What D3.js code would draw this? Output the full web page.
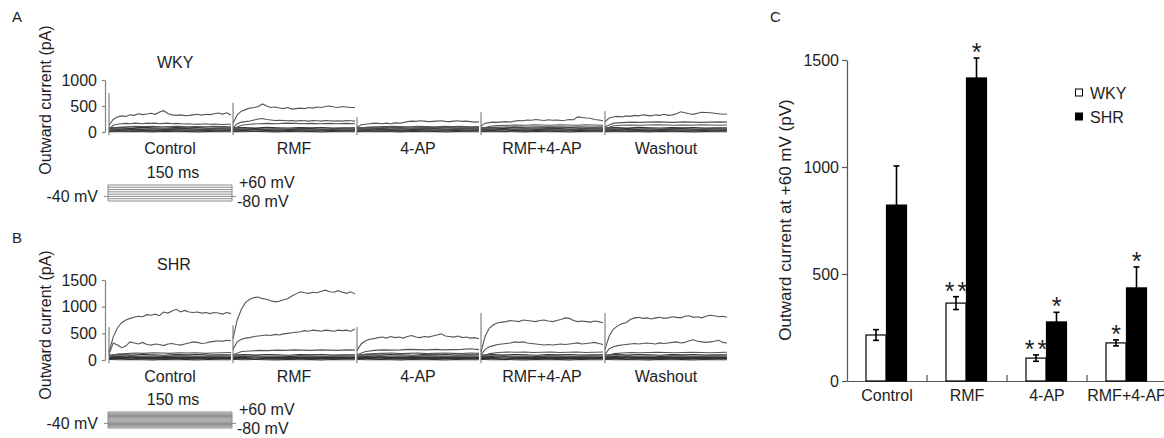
<!DOCTYPE html>
<html>
<head>
<meta charset="utf-8">
<script src="https://cdn.jsdelivr.net/npm/d3@7"></script>
<style>
  body { margin: 0; background: #fff; }
  svg text { font-family: "Liberation Sans", Arial, sans-serif; fill: #1e1e1e; }
</style>
</head>
<body>
<svg id="fig" width="1164" height="438"></svg>
<script>
// ---- panels A / B : current traces (pA), sampled evenly over the 150 ms step
var conditions = ["Control", "RMF", "4-AP", "RMF+4-AP", "Washout"];
var ticksA = [0, 500, 1000];
var ticksB = [0, 500, 1000, 1500];

var wkyTop = [
  [130,240,290,310,300,330,320,350,335,345,360,340,385,410,355,330,320,330,315,320,330,340,325,340,335,350,365,345,370,325],
  [170,330,400,430,460,470,490,540,500,470,480,460,450,470,440,450,460,450,470,460,480,470,490,500,480,470,490,480,470,470],
  [90,140,150,160,170,165,160,170,160,175,170,180,200,210,205,215,210,200,205,210,215,205,200,210,215,205,210,200,190,195],
  [110,170,180,190,185,195,200,190,210,220,215,230,225,240,230,220,235,225,230,220,225,240,235,290,280,270,265,240,230,215],
  [200,270,290,300,290,310,300,320,310,330,320,310,330,320,340,320,330,350,390,370,350,340,360,380,375,370,360,350,340,345]
];
var wkyMid = [
  [60,130,150,160,165,160,170,165,160,170,165,170,160,165,170,160,165,160,155,160,150,155,150,160,150,155,150,145,150,150],
  [80,160,190,200,210,230,250,260,240,230,220,225,220,215,220,210,220,215,210,220,215,210,220,215,210,215,210,220,215,210],
  [60,90,100,105,110,105,100,110,105,100,110,105,110,100,105],
  [60,110,125,130,135,130,140,135,130,140,135,130,140,135,130],
  [100,170,180,190,185,190,195,190,185,195,190,185,190,195,190]
];
var wkyLow = [
  [40,90,100,110,105,110,100,105,110,100,105,100,110,105,100],
  [60,130,150,160,165,160,170,165,160,165,160,165,160,165,160],
  [50,75,80,85,80,78,84,80,86,80,82,80],
  [50,90,95,100,96,102,98,100,95,100,97,100],
  [60,120,130,135,130,135,140,135,130,135,130,140,135,130,135]
];
var wkyBase = [
  [80,85,78,88,82,76,84,80,86,78,82,80],
  [60,56,64,58,62,55,60,64,57,60,62,58],
  [42,38,45,40,36,44,40,38,43,41,37,40],
  [24,28,20,26,22,27,21,25,23,28,22,24],
  [8,4,10,6,2,9,5,7,3,8,6,4]
];
var wkySpike = [750, 560, 290, 380, 400];

var shrTop = [
  [150,430,600,700,750,780,800,820,810,850,840,860,830,900,880,920,950,900,930,900,890,900,880,890,870,890,880,860,890,870],
  [400,750,950,1080,1140,1170,1180,1150,1140,1110,1090,1100,1130,1150,1200,1240,1280,1260,1250,1270,1260,1290,1310,1280,1270,1300,1270,1250,1280,1240],
  [180,300,360,390,400,420,430,410,440,420,430,410,440,460,430,420,440,430,450,470,490,450,440,430,450,420,430,410,420,400],
  [150,450,600,660,700,710,720,740,730,720,750,740,730,720,740,750,730,720,740,760,790,780,740,720,730,720,710,730,720,700],
  [200,450,580,640,680,700,760,790,800,780,790,770,790,800,780,790,810,800,790,820,830,800,810,790,820,840,830,810,820,800]
];
var shrMid = [
  [100,320,280,230,260,340,320,300,330,290,280,300,290,270,300,310,290,280,300,320,340,330,310,320,340,350,360,350,370,360],
  [200,340,390,410,420,440,450,460,470,460,480,470,490,500,510,520,530,550,540,560,550,540,560,550,540,560,550,560,540,580],
  [100,160,180,190,185,190,200,195,190,200,190,195,200,210,195],
  [100,200,250,270,290,300,310,320,340,330,340,320,310,300,290,280,290,280,290,300,290,300,310,320,300,310,320,330,310,290],
  [100,210,250,270,280,290,300,310,300,310,320,310,300,320,310,320,330,340,320,330,360,380,350,340,330,340,350,370,330,320]
];
var shrLow = [
  [60,110,120,130,125,135,130,125,135,130,135,125,130,135,140],
  [100,160,170,180,175,185,180,190,185,180,190,185,180,190,185],
  [60,110,120,125,130,120,125,130,120,125,130,125,120,130,125],
  [60,120,140,150,145,150,140,145,150,140,145,150,140,145,150],
  [60,120,130,140,135,140,145,140,135,140,145,140,135,140,145]
];
var shrBase = [
  [95,100,92,104,98,90,100,96,102,94,98,96],
  [72,68,76,70,74,66,72,76,69,72,74,70],
  [50,46,54,48,44,52,48,46,51,49,45,48],
  [28,32,24,30,26,31,25,29,27,32,26,28],
  [8,4,10,6,2,9,5,7,3,8,6,4]
];
var shrSpike = [620, 650, 620, 880, 880];

// voltage protocol (mV)
var stepsA = [-80, -60, -40, -20, 0, 20, 40, 60];
var stepsB = [-80, -70, -60, -50, -40, -30, -20, -10, 0, 10, 20, 30, 40, 50, 60];

// ---- panel C : mean outward current at +60 mV
var groups = ["Control", "RMF", "4-AP", "RMF+4-AP"];
var strains = ["WKY", "SHR"];
var wkyMean = [215, 364, 107, 178];
var wkySem = [25, 30, 15, 14];
var shrMean = [822, 1416, 276, 435];
var shrSem = [183, 93, 45, 98];
var wkyStars = ["", "**", "**", "*"];
var shrStars = ["", "*", "*", "*"];
var barTicks = [0, 500, 1000, 1500];

var svg = d3.select("#fig");
var fs = 16;

function txt(x, y, s, anchor, size) {
  return svg.append("text").attr("x", x).attr("y", y)
    .attr("text-anchor", anchor || "start")
    .style("font-size", (size || fs) + "px").text(s);
}

function styleAxis(ax, col) {
  ax.select(".domain").attr("stroke", col).attr("stroke-width", 1.2);
  ax.selectAll(".tick line").attr("stroke", col).attr("stroke-width", 1.2);
  ax.selectAll("text").style("font-size", fs + "px").attr("fill", "#1e1e1e")
    .style("font-family", "'Liberation Sans', Arial, sans-serif");
}

var xSeg = d3.scaleBand().domain(conditions).range([108, 728]);

function tracePanel(p) {
  var y = d3.scaleLinear().domain([0, p.max]).range([p.bottom, p.top]);
  var g = svg.append("g");

  // y axis
  var ax = g.append("g").attr("transform", "translate(105,0)")
    .call(d3.axisLeft(y).tickValues(p.ticks).tickFormat(d3.format("d"))
      .tickSize(3).tickSizeOuter(0).tickPadding(5));
  styleAxis(ax, "#808080");

  var line = d3.line().x(function (d) { return d[0]; }).y(function (d) { return y(d[1]); });

  conditions.forEach(function (c, i) {
    var x0 = xSeg(c), bw = xSeg.bandwidth();
    var xt = d3.scaleLinear().domain([0, 150]).range([x0 + 1, x0 + bw - 1]);
    function pts(arr) {
      return arr.map(function (v, j) { return [xt(j * 150 / (arr.length - 1)), v]; });
    }
    p.base.forEach(function (arr) {
      g.append("path").attr("d", line(pts(arr))).attr("fill", "none")
        .attr("stroke", "#333").attr("stroke-width", 1.1);
    });
    [p.low[i], p.mid[i], p.topT[i]].forEach(function (arr) {
      g.append("path").attr("d", line(pts(arr))).attr("fill", "none")
        .attr("stroke", "#555").attr("stroke-width", 1.1);
    });
    // capacitive transient at step onset
    g.append("line").attr("x1", xt(0)).attr("x2", xt(0))
      .attr("y1", y(-60)).attr("y2", y(p.spike[i]))
      .attr("stroke", "#6a6a6a").attr("stroke-width", 1);

    txt(x0 + bw / 2, p.labelY, c, "middle");
  });

  txt(157, p.nameY, p.name);
  txt(12, p.letterY, p.letter, "start", 15);

  svg.append("text").attr("transform", "translate(51," + p.axisLabelY + ") rotate(-90)")
    .attr("text-anchor", "middle").style("font-size", fs + "px").text("Outward current (pA)");

  // voltage protocol
  var v = d3.scaleLinear().domain([-80, 60]).range([p.protoBottom, p.protoTop]);
  var px0 = 108, px1 = 232;
  var pg = svg.append("g").attr("stroke", "#8a8a8a").attr("stroke-width", 1);
  p.steps.forEach(function (s) {
    pg.append("line").attr("x1", px0).attr("x2", px1).attr("y1", v(s)).attr("y2", v(s));
  });
  pg.append("line").attr("x1", px0).attr("x2", px0).attr("y1", v(-80)).attr("y2", v(60));
  pg.append("line").attr("x1", px1).attr("x2", px1).attr("y1", v(-80)).attr("y2", v(60));
  pg.append("line").attr("x1", px0 - 4).attr("x2", px0).attr("y1", v(-40)).attr("y2", v(-40));
  pg.append("line").attr("x1", px1).attr("x2", px1 + 4).attr("y1", v(-40)).attr("y2", v(-40));

  txt(173, p.protoTop - 7, "150 ms", "middle");
  txt(239, p.protoTop + 3, "+60 mV");
  txt(237, p.protoBottom + 6, "-80 mV");
  txt(98, v(-40) + 6, "-40 mV", "end");
}

tracePanel({
  letter: "A", letterY: 22, name: "WKY", nameY: 68, top: 80, bottom: 132, max: 1000,
  ticks: ticksA, topT: wkyTop, mid: wkyMid, low: wkyLow, base: wkyBase, spike: wkySpike,
  labelY: 154, axisLabelY: 100, steps: stepsA, protoTop: 185, protoBottom: 201
});
tracePanel({
  letter: "B", letterY: 243, name: "SHR", nameY: 270, top: 280, bottom: 360, max: 1500,
  ticks: ticksB, topT: shrTop, mid: shrMid, low: shrLow, base: shrBase, spike: shrSpike,
  labelY: 382, axisLabelY: 325, steps: stepsB, protoTop: 412, protoBottom: 428
});

// ---- panel C bar chart
var yC = d3.scaleLinear().domain([0, 1500]).range([381, 60]);
var x0 = d3.scaleBand().domain(groups).range([847, 1167]);
var x1 = d3.scaleBand().domain(strains)
  .range([x0.bandwidth() / 2 - 21, x0.bandwidth() / 2 + 20]);

var cg = svg.append("g");
var yAx = cg.append("g").attr("transform", "translate(847,0)")
  .call(d3.axisLeft(yC).tickValues(barTicks).tickFormat(d3.format("d"))
    .tickSize(5).tickSizeOuter(0).tickPadding(3));
styleAxis(yAx, "#555");

var xAx = cg.append("g").attr("transform", "translate(0,381)")
  .call(d3.axisBottom(x0).tickSize(0).tickPadding(9).tickSizeOuter(0));
styleAxis(xAx, "#555");
groups.slice(1).forEach(function (gname) {
  cg.append("line").attr("x1", x0(gname)).attr("x2", x0(gname))
    .attr("y1", 381).attr("y2", 375).attr("stroke", "#555").attr("stroke-width", 1.2);
});

var rows = groups.map(function (gname, i) {
  return [
    { g: gname, s: "WKY", v: wkyMean[i], e: wkySem[i], star: wkyStars[i], fill: "#fff" },
    { g: gname, s: "SHR", v: shrMean[i], e: shrSem[i], star: shrStars[i], fill: "#000" }
  ];
});

rows.forEach(function (pair) {
  pair.forEach(function (d) {
    var bx = x0(d.g) + x1(d.s), bw = x1.bandwidth() - 0.5, cx = bx + bw / 2;
    cg.append("rect").attr("x", bx).attr("y", yC(d.v)).attr("width", bw)
      .attr("height", yC(0) - yC(d.v)).attr("fill", d.fill)
      .attr("stroke", "#000").attr("stroke-width", 1.2);
    var lo = d.s === "WKY" ? d.v - d.e : d.v;
    cg.append("line").attr("x1", cx).attr("x2", cx).attr("y1", yC(lo)).attr("y2", yC(d.v + d.e))
      .attr("stroke", "#000").attr("stroke-width", 1.6);
    cg.append("line").attr("x1", cx - 3).attr("x2", cx + 3)
      .attr("y1", yC(d.v + d.e)).attr("y2", yC(d.v + d.e))
      .attr("stroke", "#000").attr("stroke-width", 1.6);
    if (d.s === "WKY") {
      cg.append("line").attr("x1", cx - 3).attr("x2", cx + 3)
        .attr("y1", yC(lo)).attr("y2", yC(lo)).attr("stroke", "#000").attr("stroke-width", 1.6);
    }
    if (d.star) {
      txt(cx + (d.star.length > 1 ? 1.5 : 0), yC(d.v + d.e) + 3, d.star, "middle", 25)
        .style("letter-spacing", d.star.length > 1 ? "3px" : null);
    }
  });
});

// legend
strains.forEach(function (s, i) {
  var ly = 89 + i * 24;
  cg.append("rect").attr("x", 1075.5).attr("y", ly).attr("width", 7).attr("height", 7)
    .attr("fill", i === 0 ? "#fff" : "#000").attr("stroke", "#000").attr("stroke-width", 1);
  txt(1090, ly + 10, s);
});

txt(770, 22, "C", "start", 15);
svg.append("text").attr("transform", "translate(791,220) rotate(-90)")
  .attr("text-anchor", "middle").style("font-size", "17px")
  .text("Outward current at +60 mV (pV)");
</script>
</body>
</html>
